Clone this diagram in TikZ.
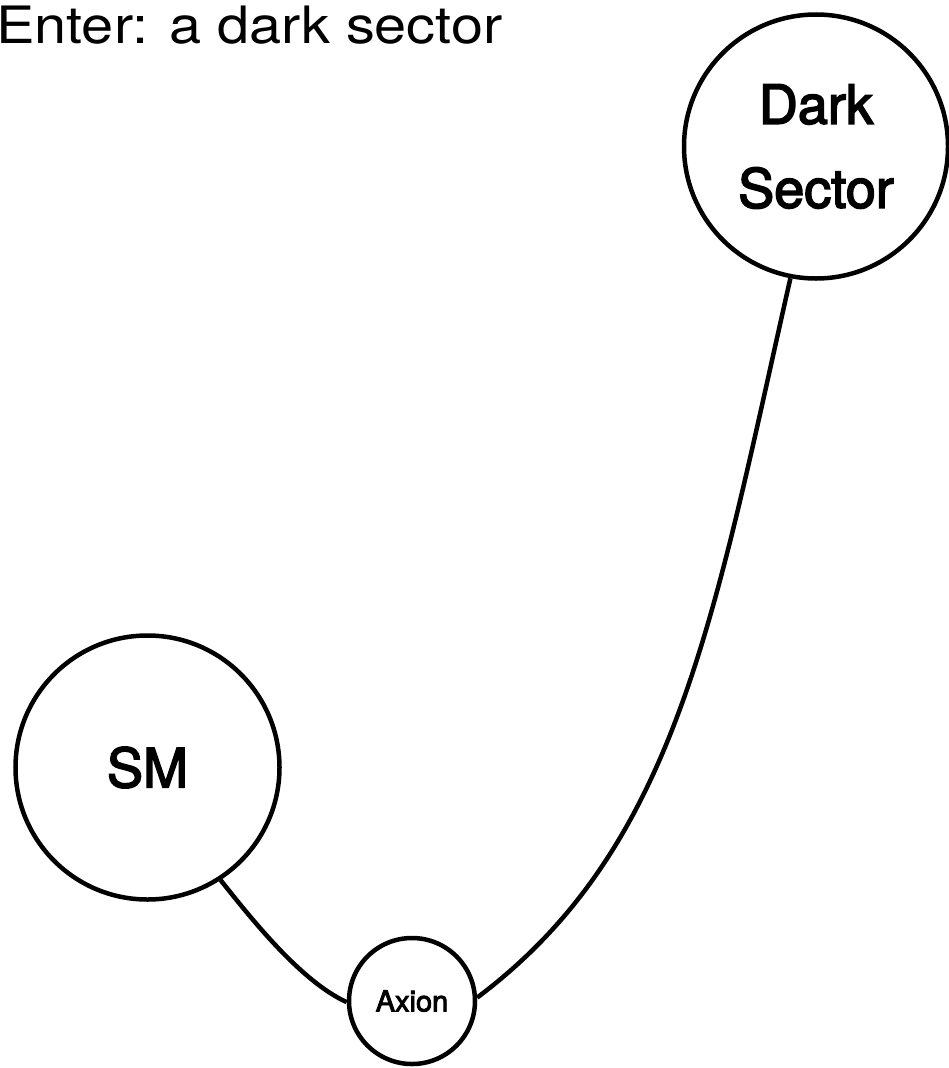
\documentclass[tikz,border=0pt]{standalone}
\usepackage{fontspec}
\setmainfont{TeX Gyre Heros}
\newfontfamily\medfont{TeX Gyre Heros}[FakeBold=3]
\begin{document}
\begin{tikzpicture}[x=1pt,y=-1pt,
  bubble/.style={circle,draw=black,line width=4.5pt,inner sep=0pt,align=center},
  link/.style={line width=4.5pt,draw=black}]
\useasboundingbox (0,0) rectangle (948,1068);
\node[anchor=base west,inner sep=0pt,font=\fontsize{51.5}{60}\selectfont] (title) at (-4,43) {\scalebox{1.12}[1]{Enter: a dark sector}};
\node[bubble,minimum size=264pt,font=\medfont\fontsize{54}{84}\selectfont] (ds) at (816,146.5) {Dark\\Sector};
\node[bubble,minimum size=264pt,font=\medfont\fontsize{54}{60}\selectfont] (sm) at (147.5,767.5) {SM};
\node[bubble,minimum size=126pt,font=\medfont\fontsize{29}{34}\selectfont] (ax) at (412,1001) {Axion};
\draw[link] (sm.-57.5) .. controls +(31,39) and +(-45.5,-20.5) .. (ax.181);
\draw[link] (ax.3.5) .. controls +(200,-150) and +(-77,340) .. (ds.-101.8);
\end{tikzpicture}
\end{document}
